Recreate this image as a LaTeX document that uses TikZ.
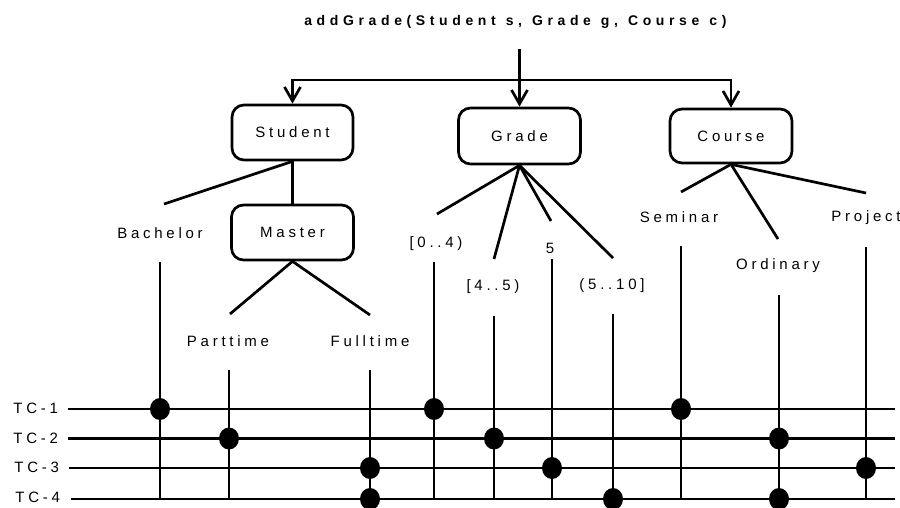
\documentclass[tikz,border=0pt]{standalone}
\usepackage{fontspec}
\setmainfont{Liberation Sans}[LetterSpace=25]
\usetikzlibrary{arrows.meta,shapes.geometric}
\newcommand\tsp{\hspace{10pt}}
\begin{document}
\begin{tikzpicture}[x=1pt,y=-1pt, line width=2.7pt,
  box/.style={draw, rounded corners=12pt, minimum width=121pt, minimum height=55pt, inner sep=0pt, font=\fontsize{15}{18}\selectfont},
  lbl/.style={font=\fontsize{15}{18}\selectfont, inner sep=0pt, anchor=base},
  tclbl/.style={font=\fontsize{15}{18}\selectfont, inner sep=0pt, anchor=base west},
  dot/.style={ellipse, fill=black, minimum width=20pt, minimum height=22pt, inner sep=0pt},
  arr/.style={-{Straight Barb[length=14pt,width=16pt]}}
]
\useasboundingbox (0,0) rectangle (900,507);

% title and top connector
\node[inner sep=0pt, anchor=base west, font=\bfseries\fontsize{14}{17}\selectfont] (title) at (303,25) {\addfontfeature{LetterSpace=33}addGrade(Student\tsp s,\tsp Grade\tsp g,\tsp Course\tsp c)};
\coordinate (top) at (519.5,49);
\coordinate (split) at (519.5,80);

% boxes
\node[box] (student) at (292.5,132.5) {Student};
\node[box, minimum width=122pt, minimum height=56pt] (grade) at (519.5,136) {Grade};
\node[box, minimum width=122pt, minimum height=54pt] (course) at (731,136) {Course};
\node[box, minimum width=122pt] (master) at (292.5,232.5) {Master};

\draw (top) -- (split);
\draw[arr] (split) -| (student.north);
\draw[arr] (split) -- (grade.north);
\draw[arr] (split) -| (course.north);

% leaf labels
\node[lbl] (bachelor) at (160,238) {Bachelor};
\node[lbl] (parttime) at (228,346) {Parttime};
\node[lbl] (fulltime) at (370,346) {Fulltime};
\node[lbl] (g04) at (436,247) {[0..4)};
\node[lbl] (g45) at (493,290) {[4..5)};
\node[lbl] (g5) at (550,253) {5};
\node[lbl] (g510) at (612,289) {(5..10]};
\node[lbl] (seminar) at (679,222) {Seminar};
\node[lbl] (ordinary) at (778,269) {Ordinary};
\node[lbl] (project) at (866,221) {Project};

% tree branch ends
\coordinate (eBach) at (164,204);
\coordinate (ePart) at (230,314);
\coordinate (eFull) at (370,315);
\coordinate (e04) at (437,214);
\coordinate (e45) at (494,259);
\coordinate (e5) at (551,221);
\coordinate (e510) at (613,258);
\coordinate (eSem) at (681,192);
\coordinate (eOrd) at (778,239);
\coordinate (eProj) at (866,193);

\draw (student.south) -- (eBach);
\draw (student.south) -- (master.north);
\draw (master.south) -- (ePart);
\draw (master.south) -- (eFull);
\draw (grade.south) -- (e04);
\draw (grade.south) -- (e45);
\draw (grade.south) -- (e5);
\draw (grade.south) -- (e510);
\draw (course.south) -- (eSem);
\draw (course.south) -- (eOrd);
\draw (course.south) -- (eProj);

% test case lines
\node[tclbl] (tc1) at (12,413) {TC-1};
\node[tclbl] (tc2) at (12,443) {TC-2};
\node[tclbl] (tc3) at (13,472) {TC-3};
\node[tclbl] (tc4) at (14,502) {TC-4};
\coordinate (l1a) at (68,409);   \coordinate (l1b) at (895,409);
\coordinate (l2a) at (68,438.5); \coordinate (l2b) at (895,438.5);
\coordinate (l3a) at (69,468);   \coordinate (l3b) at (895,468);
\coordinate (l4a) at (71,499);   \coordinate (l4b) at (895,499);
\draw (l1a) -- (l1b);
\draw (l2a) -- (l2b);
\draw (l3a) -- (l3b);
\draw (l4a) -- (l4b);

% vertical value lines
\coordinate (vBach) at (160,262);  \coordinate (bBach) at (160,498);
\coordinate (vPart) at (229,370);  \coordinate (bPart) at (229,498);
\coordinate (vFull) at (370,370);  \coordinate (bFull) at (370,498);
\coordinate (v04) at (434,262);    \coordinate (b04) at (434,498);
\coordinate (v45) at (494,316);    \coordinate (b45) at (494,498);
\coordinate (v5) at (552,259);     \coordinate (b5) at (552,498);
\coordinate (v510) at (613,314);   \coordinate (b510) at (613,498);
\coordinate (vSem) at (681,246);   \coordinate (bSem) at (681,498);
\coordinate (vOrd) at (779,295);   \coordinate (bOrd) at (779,498);
\coordinate (vProj) at (866,247);  \coordinate (bProj) at (866,498);
\foreach \n in {Bach,Part,Full,04,45,5,510,Sem,Ord,Proj}{\draw (v\n) -- (b\n);}

% dots
\node[dot] (d1) at (160,409) {};
\node[dot] (d2) at (229,438.5) {};
\node[dot] (d3) at (370,468) {};
\node[dot] (d4) at (370,499) {};
\node[dot] (d5) at (434,409) {};
\node[dot] (d6) at (494,438.5) {};
\node[dot] (d7) at (552,468) {};
\node[dot] (d8) at (613,499) {};
\node[dot] (d9) at (681,409) {};
\node[dot] (d10) at (779,438.5) {};
\node[dot] (d11) at (779,499) {};
\node[dot] (d12) at (866,468) {};
\end{tikzpicture}
\end{document}
